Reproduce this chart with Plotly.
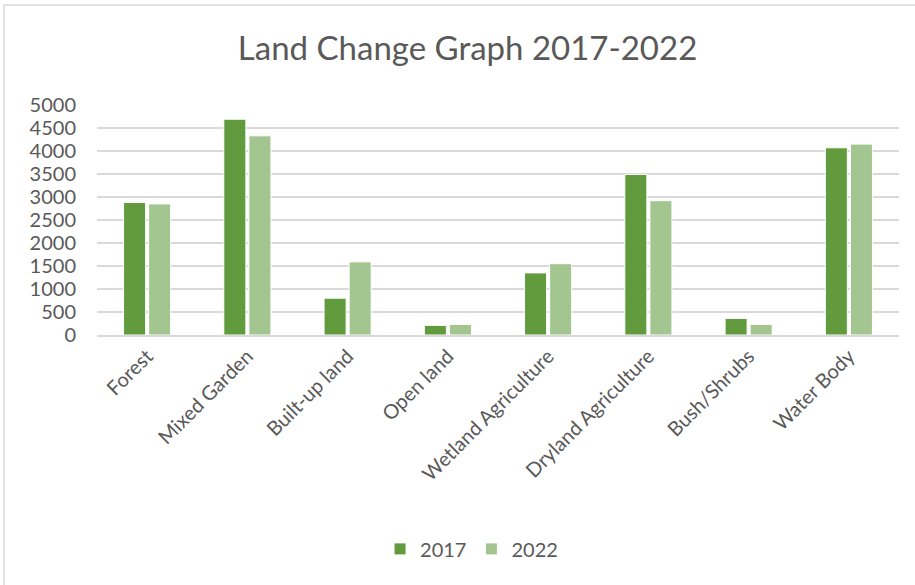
import plotly.graph_objects as go

categories = ["Forest", "Mixed Garden", "Built-up land", "Open land",
              "Wetland Agriculture", "Dryland Agriculture", "Bush/Shrubs", "Water Body"]
values_2017 = [2880, 4690, 800, 210, 1350, 3490, 360, 4070]
values_2022 = [2850, 4330, 1590, 230, 1550, 2920, 230, 4150]
y_ticks = [0, 500, 1000, 1500, 2000, 2500, 3000, 3500, 4000, 4500, 5000]

FONT = "Lato"
TXT = "#595959"
GRID = "#D9D9D9"

fig = go.Figure()
fig.add_trace(go.Bar(name="2017", x=categories, y=values_2017,
                     marker=dict(color="#629A3E", line=dict(color="#FFFFFF", width=1))))
fig.add_trace(go.Bar(name="2022", x=categories, y=values_2022,
                     marker=dict(color="#A3C590", line=dict(color="#FFFFFF", width=1))))

fig.update_layout(
    width=915, height=585,
    margin=dict(l=97, r=16, t=105, b=250),
    paper_bgcolor="white", plot_bgcolor="white",
    barmode="group", bargap=0.5, bargroupgap=0.12,
    font=dict(family=FONT, color=TXT, size=20),
    title=dict(text="Land Change Graph 2017-2022", x=0.511, xanchor="center",
               y=0.918, yanchor="middle", yref="container",
               font=dict(family=FONT, size=33, color=TXT)),
    legend=dict(orientation="h", x=0.467, xanchor="center", y=-0.93, yanchor="middle",
                font=dict(family=FONT, size=20, color=TXT), itemwidth=30,
                traceorder="normal"),
    xaxis=dict(tickangle=-45, showgrid=False, showline=True, linecolor=GRID, linewidth=1.5,
               tickfont=dict(family=FONT, size=20, color=TXT), ticks=""),
    yaxis=dict(range=[0, 5000], tickvals=y_ticks, showgrid=True, gridcolor=GRID, gridwidth=1.5,
               zeroline=False, showline=False, ticks="", ticklabelstandoff=20,
               tickfont=dict(family=FONT, size=20, color=TXT)),
    shapes=[dict(type="rect", xref="paper", yref="paper",
                 x0=-93/802, x1=1.05, y0=-1.2, y1=(335-5)/230,
                 line=dict(color=GRID, width=1.5), fillcolor="rgba(0,0,0,0)", layer="below")],
)

fig.write_html("out.html")
